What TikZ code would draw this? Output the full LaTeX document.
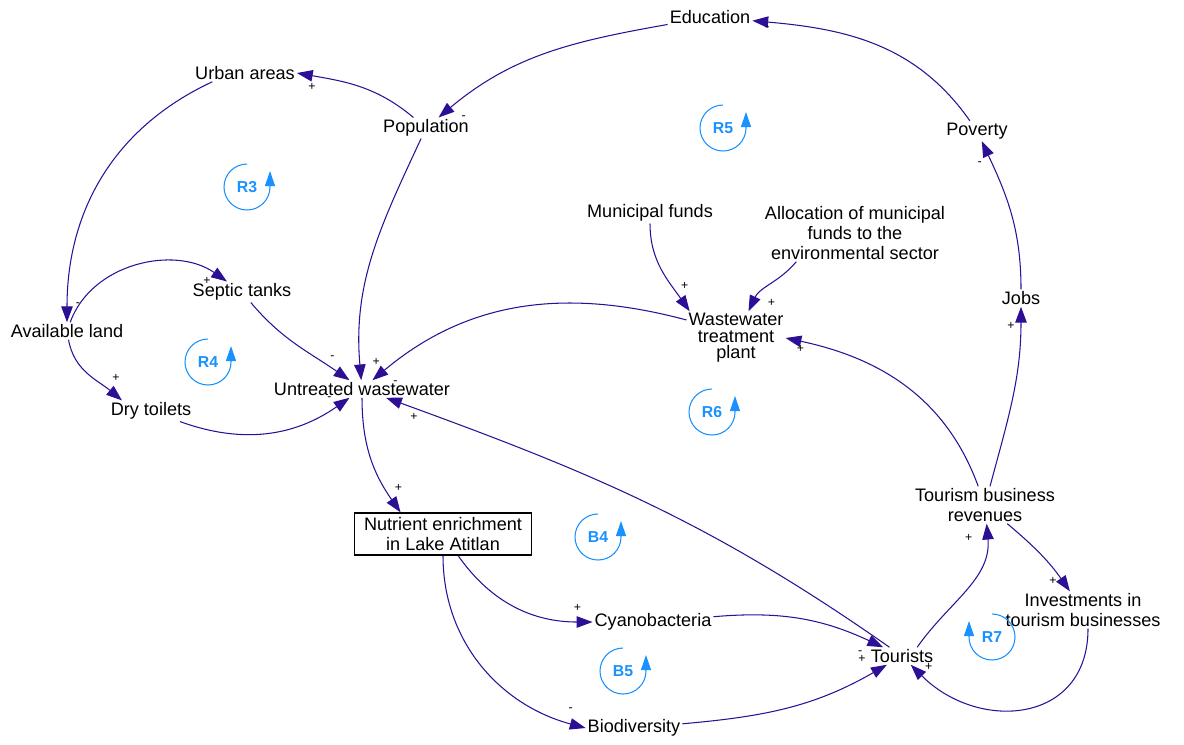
\documentclass[tikz,border=0pt]{standalone}
\usepackage{fontspec}
\setmainfont{Liberation Sans}
\usetikzlibrary{arrows.meta}
\definecolor{linkcol}{RGB}{45,15,150}
\definecolor{loopcol}{RGB}{25,145,255}
\begin{document}
\begin{tikzpicture}[every node/.style={inner sep=1pt, align=center, font=\fontsize{10.3}{11.3}\selectfont},
  link/.style={draw=linkcol, line width=0.6pt, -{Triangle[length=9pt,width=6.5pt]}},
  sg/.style={pos=1, inner sep=0pt, font=\fontsize{7}{7}\selectfont},
  stockbox/.style={draw, line width=0.7pt, inner xsep=5.4pt, minimum height=0.84cm, font=\fontsize{10.3}{11.9}\selectfont},
  loopname/.style={text=loopcol, font=\bfseries\fontsize{9}{9}\selectfont},
  looparc/.style={draw=loopcol, line width=0.6pt, -{Triangle[length=0.3cm,width=0.2cm]}}]
\useasboundingbox (0,0) rectangle (23.68,-14.88);
% variables
\node (edu) at (14.20,-0.34) {Education};
\node (urban) at (4.90,-1.46) {Urban areas};
\node (pop) at (8.52,-2.56) {Population};
\node (pov) at (19.54,-2.62) {Poverty};
\node (mf) at (13.00,-4.26) {Municipal funds};
\node (alloc) at (17.10,-4.66) {Allocation of municipal\\funds to the\\environmental sector};
\node (septic) at (4.84,-5.84) {Septic tanks};
\node (jobs) at (20.42,-5.96) {Jobs};
\node (land) at (1.34,-6.62) {Available land};
\node[font=\fontsize{10.3}{9.4}\selectfont] (wtp) at (14.72,-6.76) {Wastewater\\treatment\\plant};
\node (uw) at (7.24,-7.78) {Untreated wastewater};
\node (dry) at (3.02,-8.22) {Dry toilets};
\node (tbr) at (19.70,-10.10) {Tourism business\\revenues};
\node[stockbox] (nutr) at (8.86,-10.68) {Nutrient enrichment\\in Lake Atitlan};
\node (cyano) at (13.06,-12.44) {Cyanobacteria};
\node (inv) at (21.66,-12.20) {Investments in\\tourism businesses};
\node (tour) at (18.04,-13.12) {Tourists};
\node (bio) at (12.68,-14.56) {Biodiversity};
% causal links
\draw[link] (pop) to[out=140,in=-10] node[sg,shift={(0.3,-0.28)}]{+} (urban.east);
\draw[link] (urban.195) to[out=205,in=90] node[sg,shift={(0.22,0.36)}]{-} (land);
\draw[link] (edu) to[out=190,in=40] node[sg,shift={(0.5,0)}]{-} (pop);
\draw[link] (pov) to[out=125,in=-5] node[sg,shift={(0.3,-0.16)}]{-} (edu);
\draw[link] (jobs) to[out=90,in=-65] node[sg,shift={(-0.04,-0.44)}]{-} (pov);
\draw[link] (tbr.75) to[out=75,in=-90] node[sg,shift={(-0.2,-0.38)}]{+} (jobs);
\draw[link] (tbr) to[out=110,in=-12] node[sg,shift={(0.3,-0.22)}]{+} (wtp.east);
\draw[link] (tbr) to[out=-40,in=125] node[sg,shift={(-0.34,0.2)}]{+} (inv);
\draw[link] (inv.-75) to[out=-90,in=-45,looseness=1.35] node[sg,shift={(0.36,-0.04)}]{+} (tour);
\draw[link] (tour.30) to[out=55,in=-85] node[sg,shift={(-0.36,-0.28)}]{+} (tbr);
\draw[link] (tour) to[out=145,in=-20] node[sg,shift={(0.56,-0.38)}]{+} (uw);
\draw[link] (wtp.160) to[out=165,in=40] node[sg,shift={(0.46,-0.04)}]{-} (uw);
\draw[link] (mf) to[out=-90,in=125] node[sg,shift={(-0.1,0.5)}]{+} (wtp.150);
\draw[link] (alloc.206) to[out=-130,in=65] node[sg,shift={(0.46,0.16)}]{+} (wtp);
\draw[link] (pop) to[out=-115,in=95] node[sg,shift={(0.3,0.36)}]{+} (uw);
\draw[link] (septic) to[out=-50,in=145] node[sg,shift={(-0.34,0.46)}]{-} (uw);
\draw[link] (land) to[out=70,in=145] node[sg,shift={(-0.4,0.02)}]{+} (septic);
\draw[link] (land) to[out=-80,in=140] node[sg,shift={(-0.12,0.46)}]{+} (dry.160);
\draw[link] (dry) to[out=-20,in=-145] node[sg,shift={(-0.4,-0.02)}]{-} (uw);
\draw[link] (uw) to[out=-90,in=125] node[sg,shift={(-0.04,0.48)}]{+} (nutr.153);
\draw[link] (nutr) to[out=-55,in=180] node[sg,shift={(-0.3,0.28)}]{+} (cyano);
\draw[link] (nutr) to[out=-90,in=165] node[sg,shift={(-0.3,0.36)}]{-} (bio.west);
\draw[link] (cyano) to[out=5,in=155] node[sg,shift={(-0.46,-0.1)}]{-} (tour);
\draw[link] (bio) to[out=5,in=-150] node[sg,shift={(-0.5,0.12)}]{+} (tour);
% loop markers
\foreach \nm/\x/\y in {R3/4.94/-3.74, R4/4.16/-7.24, R5/14.46/-2.56, R6/14.24/-8.24, B4/11.96/-10.74, B5/12.46/-13.42} {
  \node[loopname] (\nm) at (\x,\y) {\nm};
  \draw[looparc] (\nm.center) ++(0,0.46) arc[start angle=90, end angle=360, radius=0.46] -- ++(0,0.32);
}
\node[loopname] (R7) at (19.84,-12.74) {R7};
\draw[looparc] (R7.center) ++(0,0.46) arc[start angle=90, end angle=-180, radius=0.46] -- ++(0,0.32);
\end{tikzpicture}
\end{document}
